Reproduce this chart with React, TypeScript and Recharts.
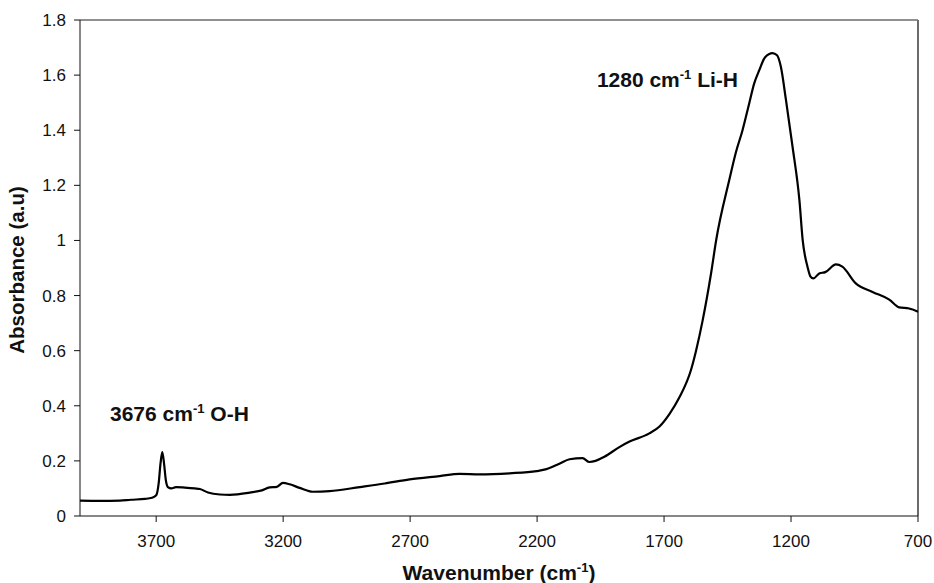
import { LineChart, Line, XAxis, YAxis, ReferenceLine } from 'recharts';

// wavenumber (cm-1)
const wavenumbers = [
  4000, 3921, 3843, 3800, 3744, 3717, 3700, 3690, 3683, 3676, 3669, 3662, 3654, 3640, 3622,
  3587, 3548, 3528, 3496, 3449, 3410, 3331, 3284, 3253, 3225, 3201, 3174, 3135, 3083, 3017,
  2898, 2800, 2702, 2584, 2505, 2426, 2308, 2202, 2163, 2112, 2072, 2021, 1994, 1970, 1935,
  1876, 1836, 1758, 1718, 1679, 1640, 1594, 1574, 1548, 1515, 1495, 1443, 1417, 1391, 1364,
  1345, 1325, 1302, 1273, 1255, 1240, 1220, 1194, 1167, 1154, 1135, 1124, 1112, 1089, 1065,
  1023, 998, 945, 879, 813, 774, 735, 700,
];

const absorbance = [
  0.056, 0.055, 0.056, 0.059, 0.062, 0.066, 0.075, 0.12, 0.19, 0.232, 0.19, 0.13, 0.105, 0.1, 0.105,
  0.103, 0.1, 0.098, 0.085, 0.078, 0.077, 0.085, 0.093, 0.104, 0.106, 0.12, 0.115, 0.102, 0.088, 0.09,
  0.105, 0.118, 0.133, 0.145, 0.153, 0.151, 0.155, 0.163, 0.17, 0.19, 0.206, 0.21, 0.196, 0.2, 0.215,
  0.25, 0.27, 0.3, 0.325, 0.37, 0.43, 0.53, 0.6, 0.71, 0.88, 1.0, 1.22, 1.32, 1.4, 1.5,
  1.57, 1.618, 1.665, 1.68, 1.672, 1.63, 1.51, 1.34, 1.146, 1.0, 0.904, 0.87, 0.862, 0.88, 0.885,
  0.913, 0.905, 0.844, 0.813, 0.785, 0.757, 0.753, 0.741,
];

const xTicks = [3700, 3200, 2700, 2200, 1700, 1200, 700];
const yTicks = [0, 0.2, 0.4, 0.6, 0.8, 1, 1.2, 1.4, 1.6, 1.8];

const data = wavenumbers.map((wn, i) => ({ wn, abs: absorbance[i] }));

const FONT = '"Liberation Sans", Arial, sans-serif';

export default function App() {
  const tickStyle = { fontSize: 17, fill: '#111', fontFamily: FONT };

  return (
    <div style={{ position: 'absolute', left: 0, top: 0, width: 934, height: 583, background: '#fff' }}>
      <LineChart width={934} height={583} data={data} margin={{ top: 20, right: 16, bottom: 0, left: 0 }}>
        <XAxis
          dataKey="wn"
          type="number"
          domain={[700, 4000]}
          reversed
          ticks={xTicks}
          tick={tickStyle}
          tickSize={6}
          tickMargin={13}
          height={67}
          stroke="#111"
          allowDataOverflow
        />
        <YAxis
          type="number"
          domain={[0, 1.8]}
          ticks={yTicks}
          tick={tickStyle}
          tickSize={6}
          tickMargin={8}
          width={80}
          stroke="#111"
          tickFormatter={(v: number) => String(Number(v.toFixed(1)))}
        />
        {/* frame: top and right edges of the plot */}
        <ReferenceLine y={1.8} stroke="#222" strokeWidth={1.2} />
        <ReferenceLine x={700} stroke="#6b6b6b" strokeWidth={2} />
        <Line
          type="monotone"
          dataKey="abs"
          stroke="#000"
          strokeWidth={2.2}
          dot={false}
          isAnimationActive={false}
        />
      </LineChart>

      <svg
        width={934}
        height={583}
        style={{ position: 'absolute', left: 0, top: 0, pointerEvents: 'none' }}
        fontFamily={FONT}
        fontWeight="bold"
        fill="#111"
      >
        <text x={110} y={421} fontSize={21}>
          3676 cm<tspan dy={-8} fontSize={13}>-1</tspan>
          <tspan dy={8}> O-H</tspan>
        </text>
        <text x={738} y={87} fontSize={21} textAnchor="end">
          1280 cm<tspan dy={-8} fontSize={13}>-1</tspan>
          <tspan dy={8}> Li-H</tspan>
        </text>
        <text x={499} y={580} fontSize={21} textAnchor="middle">
          Wavenumber (cm<tspan dy={-8} fontSize={13}>-1</tspan>
          <tspan dy={8}>)</tspan>
        </text>
        <text
          x={24}
          y={270}
          fontSize={20.5}
          textAnchor="middle"
          transform="rotate(-90 24 270)"
        >
          Absorbance (a.u)
        </text>
      </svg>
    </div>
  );
}
